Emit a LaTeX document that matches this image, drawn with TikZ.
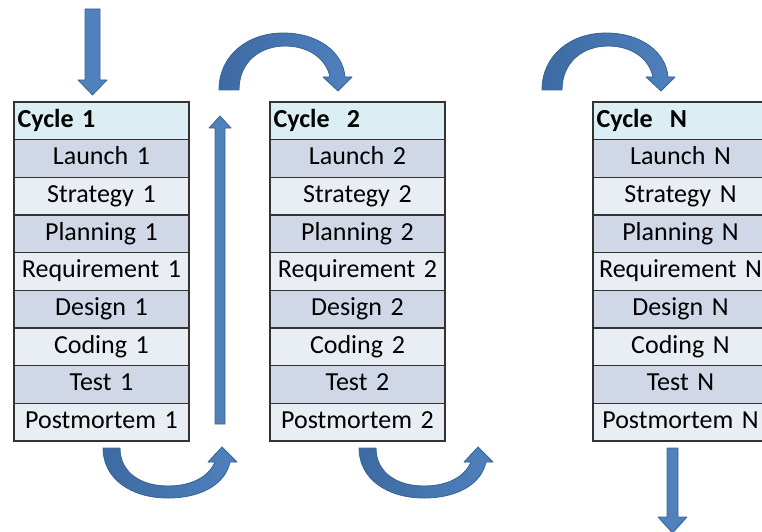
\documentclass[tikz,border=0pt]{standalone}
\usepackage{fontspec}
\setmainfont{Carlito}
\definecolor{headcyan}{HTML}{DAEEF3}
\definecolor{rowdark}{HTML}{D0D8E8}
\definecolor{rowlight}{HTML}{E9EDF4}
\definecolor{arrowblue}{HTML}{4F81BD}
\definecolor{arrowdark}{HTML}{3D6AA2}
\definecolor{arrowedge}{HTML}{3A6594}
\tikzset{
  cell/.style={draw=black!80, line width=0.9pt, text width=126pt, inner xsep=2.6pt,
    minimum height=28.25pt, text height=13.5pt, text depth=4pt, align=center,
    font=\fontsize{19.5}{23}\selectfont},
  headcell/.style={cell, fill=headcyan, align=left, font=\fontsize{19.5}{23}\selectfont\bfseries},
  darkcell/.style={cell, fill=rowdark},
  lightcell/.style={cell, fill=rowlight},
  blockarrow/.style={fill=arrowblue, draw=arrowedge, line width=0.6pt, line join=round},
  bentarrow/.style={blockarrow, left color=arrowdark, right color=arrowblue},
}
\begin{document}
\begin{tikzpicture}[x=0.75pt, y=-0.75pt]
  \useasboundingbox (0,0) rectangle (762,531);
  \clip (0,0) rectangle (762,531);
  % cycle tables
  \foreach \t/\cx/\hd in {1/101.5/Cycle~1, 2/357.5/Cycle~~2, N/680.5/Cycle~~N}{
    \node[headcell] (c\t-0) at (\cx,120.8) {\hd};
    \foreach \r/\st [count=\i] in {Launch/darkcell, Strategy/lightcell, Planning/darkcell,
        Requirement/lightcell, Design/darkcell, Coding/lightcell, Test/darkcell, Postmortem/lightcell}
      \node[\st] (c\t-\i) at (\cx,{120.8+37.67*\i}) {\r{} \t};
  }
  % straight arrows
  \draw[blockarrow] (85,9) -- (100,9) -- (100,80) -- (107,80) -- (92.5,95) -- (78,80) -- (85,80) -- cycle;
  \draw[blockarrow] (215,424) -- (225,424) -- (225,128) -- (231,128) -- (220,116) -- (209,128) -- (215,128) -- cycle;
  \draw[blockarrow] (667,448) -- (678,448) -- (678,517) -- (687,517) -- (672.5,533) -- (658,517) -- (667,517) -- cycle;
  % curved arrows over the top
  \foreach \s in {0,323}
    \draw[bentarrow, shift={(\s,0)}] (219,90) .. controls (219,55) and (248,33) .. (283,33)
      .. controls (318,33) and (343,52) .. (345,77) -- (352,77) -- (338,91) -- (323,77) -- (330,77)
      .. controls (326,58) and (308,46) .. (285,46) .. controls (260,46) and (239,62) .. (239,90) -- cycle;
  % curved arrows underneath
  \foreach \s in {0,256}
    \draw[bentarrow, shift={(\s,0)}] (103,448) .. controls (103,478) and (130,498) .. (168,498)
      .. controls (200,498) and (225,485) .. (230,462) -- (237,462) -- (222,447) -- (208,462) -- (215,462)
      .. controls (208,478) and (190,486) .. (168,486) .. controls (140,486) and (120,472) .. (120,448) -- cycle;
\end{tikzpicture}
\end{document}
